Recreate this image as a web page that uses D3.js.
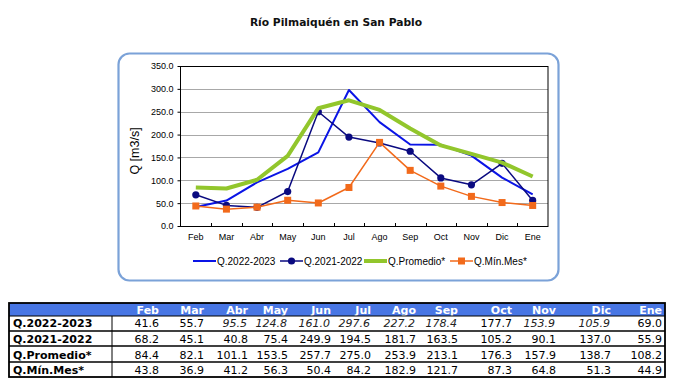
<!DOCTYPE html>
<html><head><meta charset="utf-8">
<script src="https://cdn.jsdelivr.net/npm/d3@7"></script>
<style>body{margin:0;background:#fff}svg{display:block}</style>
</head><body>
<script>
const months = ["Feb","Mar","Abr","May","Jun","Jul","Ago","Sep","Oct","Nov","Dic","Ene"];
const q2022_2023 = [41.6,55.7,95.5,124.8,161.0,297.6,227.2,178.4,177.7,153.9,105.9,69.0];
const q2021_2022 = [68.2,45.1,40.8,75.4,249.9,194.5,181.7,163.5,105.2,90.1,137.0,55.9];
const qPromedio = [84.4,82.1,101.1,153.5,257.7,275.0,253.9,213.1,176.3,157.9,138.7,108.2];
const qMinMes = [43.8,36.9,41.2,56.3,50.4,84.2,182.9,121.7,87.3,64.8,51.3,44.9];
const seriesNames = ["Q.2022-2023","Q.2021-2022","Q.Promedio*","Q.Mín.Mes*"];
const yTicks = [0,50,100,150,200,250,300,350];
const title = "Río Pilmaiquén en San Pablo";
const yTitle = "Q [m3/s]";
const italicRow1 = [2,3,4,5,6,7,9,10];

const W=679,H=392;
const svg=d3.select("body").append("svg").attr("width",W).attr("height",H);

svg.append("text").attr("x",336).attr("y",26).attr("text-anchor","middle")
  .attr("font-family","DejaVu Sans").attr("font-weight","bold").attr("font-size",10.7)
  .attr("fill","#111").text(title);

// frame
svg.append("rect").attr("x",118.5).attr("y",53.5).attr("width",440).attr("height",227)
  .attr("rx",11).attr("fill","#fff").attr("stroke","#7ba2d8").attr("stroke-width",2.2);

const L=180.5,R=548,T=66,B=226;
const x=d3.scaleBand().domain(months).range([L,R]);
const y=d3.scaleLinear().domain([0,350]).range([B,T]);

const g=svg.append("g");
g.selectAll("line.grid").data(yTicks.filter(v=>v>0&&v<350)).join("line")
  .attr("x1",L).attr("x2",R).attr("y1",d=>Math.round(y(d))+0.5).attr("y2",d=>Math.round(y(d))+0.5)
  .attr("stroke","#a8a8a8").attr("stroke-width",1);
g.append("rect").attr("x",L).attr("y",T+0.5).attr("width",R-L).attr("height",B-T)
  .attr("fill","none").attr("stroke","#000").attr("stroke-width",1);

const yAxis=g.append("g").attr("transform",`translate(${L},0)`)
  .call(d3.axisLeft(y).tickValues(yTicks).tickFormat(d3.format(".1f")).tickSize(3).tickPadding(4));
yAxis.select(".domain").remove();
yAxis.selectAll("text").attr("font-family","Liberation Sans, Arial").attr("font-size",9).attr("fill","#000");

const xAxis=g.append("g").attr("transform",`translate(0,${B+0.5})`)
  .call(d3.axisBottom(x).tickSize(0).tickPadding(7));
xAxis.select(".domain").remove();
xAxis.selectAll("text").attr("font-family","Liberation Sans, Arial").attr("font-size",9).attr("fill","#000");
g.selectAll("line.xt").data(months.slice(1)).join("line")
  .attr("x1",d=>Math.round(x(d))+0.5).attr("x2",d=>Math.round(x(d))+0.5)
  .attr("y1",B).attr("y2",B-3).attr("stroke","#000");

svg.append("text").attr("transform","translate(139,151) rotate(-90)").attr("text-anchor","middle")
  .attr("font-family","Liberation Sans, Arial").attr("font-size",12.5).attr("fill","#000").text(yTitle);

const line=d3.line().x((d,i)=>x(months[i])+x.bandwidth()/2).y(d=>y(d));
const styles=[
  {data:q2022_2023,color:"#0a14e6",w:2,marker:null},
  {data:q2021_2022,color:"#0a0a80",w:1.5,marker:"circle"},
  {data:qPromedio,color:"#92c62c",w:4,marker:null},
  {data:qMinMes,color:"#f26a1b",w:1.5,marker:"square"}
];
styles.forEach(s=>{
  g.append("path").attr("d",line(s.data)).attr("fill","none").attr("stroke",s.color)
   .attr("stroke-width",s.w).attr("stroke-linejoin","round");
  if(s.marker==="circle"){
    g.selectAll(null).data(s.data).join("circle")
     .attr("cx",(d,i)=>x(months[i])+x.bandwidth()/2).attr("cy",d=>y(d)).attr("r",3.6).attr("fill",s.color);
  } else if(s.marker==="square"){
    g.selectAll(null).data(s.data).join("rect")
     .attr("x",(d,i)=>x(months[i])+x.bandwidth()/2-3.5).attr("y",d=>y(d)-3.5)
     .attr("width",7).attr("height",7).attr("fill",s.color);
  }
});

// legend
const legX=[193,280,364,450];
const leg=svg.append("g").attr("transform","translate(0,261)");
styles.forEach((s,i)=>{
  const lg=leg.append("g").attr("transform",`translate(${legX[i]},0)`);
  lg.append("line").attr("x1",0).attr("x2",23).attr("y1",0).attr("y2",0).attr("stroke",s.color).attr("stroke-width",s.w);
  if(s.marker==="circle") lg.append("circle").attr("cx",11.5).attr("cy",0).attr("r",3.6).attr("fill",s.color);
  if(s.marker==="square") lg.append("rect").attr("x",8).attr("y",-3.5).attr("width",7).attr("height",7).attr("fill",s.color);
  lg.append("text").attr("x",24).attr("y",3.6).attr("font-family","Liberation Sans, Arial").attr("font-size",10)
    .attr("fill","#000").text(seriesNames[i]);
});

// table
const tL=9,tR=665,labR=112;
const colRight=[162,207,251,291,334,374,419,461,515,559,614,665];
const rowTop=[303,316,331,346,362,377];
const rows=[q2022_2023,q2021_2022,qPromedio,qMinMes];
const tb=svg.append("g");
tb.append("rect").attr("x",tL).attr("y",rowTop[0]).attr("width",tR-tL).attr("height",rowTop[1]-rowTop[0]).attr("fill","#4876e4");
months.forEach((m,j)=>{
  tb.append("text").attr("x",colRight[j]-3).attr("y",314).attr("text-anchor","end")
    .attr("font-family","DejaVu Sans").attr("font-weight","bold").attr("font-size",11).attr("fill","#fff").text(m);
});
const baseY=[327,342.5,358.5,374];
rows.forEach((r,i)=>{
  tb.append("text").attr("x",13).attr("y",baseY[i]).attr("font-family","DejaVu Sans").attr("font-weight","bold")
    .attr("font-size",11).attr("fill","#000").text(seriesNames[i]);
  r.forEach((v,j)=>{
    const it=i===0&&italicRow1.includes(j);
    tb.append("text").attr("x",colRight[j]-3-(it?1:0)).attr("y",baseY[i]).attr("text-anchor","end")
      .attr("font-family","DejaVu Sans").attr("font-size",11).attr("font-style",it?"italic":"normal")
      .attr("fill",it?"#222":"#000").text(d3.format(".1f")(v));
  });
});
[331,346,362].forEach(yy=>tb.append("line").attr("x1",tL).attr("x2",tR).attr("y1",yy).attr("y2",yy).attr("stroke","#000").attr("stroke-width",1.3));
tb.append("line").attr("x1",tL).attr("x2",tR).attr("y1",316).attr("y2",316).attr("stroke","#000").attr("stroke-width",1);
tb.append("line").attr("x1",labR).attr("x2",labR).attr("y1",316).attr("y2",377).attr("stroke","#000").attr("stroke-width",1);
tb.append("rect").attr("x",tL).attr("y",rowTop[0]).attr("width",tR-tL).attr("height",377-rowTop[0])
  .attr("fill","none").attr("stroke","#000").attr("stroke-width",1.8);
</script>
</body></html>
